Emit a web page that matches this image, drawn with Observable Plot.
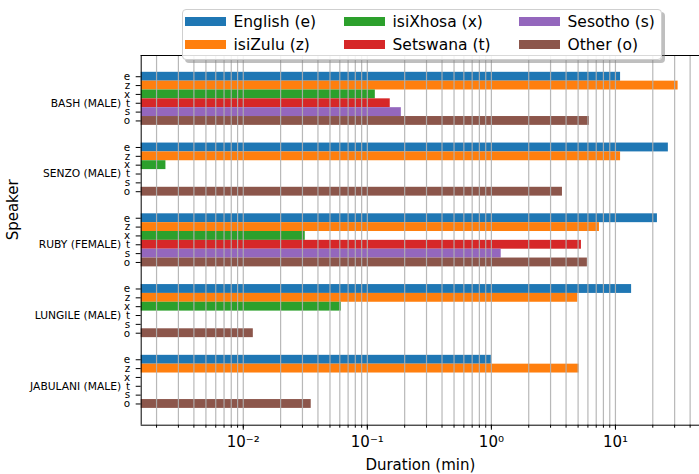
<!DOCTYPE html>
<html><head><meta charset="utf-8">
<script src="https://cdn.jsdelivr.net/npm/d3@7"></script>
<script src="https://cdn.jsdelivr.net/npm/@observablehq/plot@0.6"></script>
<style>
body{margin:0;background:#fff;font-family:"DejaVu Sans",sans-serif;}
#wrap{position:relative;width:699px;height:474px;overflow:hidden;}
#wrap svg{position:absolute;left:0;top:0;}
#legend{position:absolute;left:182px;top:9px;width:480px;height:51px;box-sizing:border-box;border:1px solid #cfcfcf;border-radius:4px;background:rgba(255,255,255,0.85);box-shadow:3px 3px 0 rgba(128,128,128,0.5);z-index:2;}
.item{position:absolute;display:flex;align-items:center;font-size:15.5px;color:#000;height:20px;line-height:20px;white-space:nowrap;}
.sw{width:41px;height:9px;margin-right:8px;flex:none;}
</style></head>
<body>
<div id="wrap"></div>
<script>
const speakers = ["BASH (MALE)", "SENZO (MALE)", "RUBY (FEMALE)", "LUNGILE (MALE)", "JABULANI (MALE)"];
const languages = ["English (e)", "isiZulu (z)", "isiXhosa (x)", "Setswana (t)", "Sesotho (s)", "Other (o)"];
const codes = ["e", "z", "x", "t", "s", "o"];
const colors = ["#1f77b4", "#ff7f0e", "#2ca02c", "#d62728", "#9467bd", "#8c564b"];
// durations in minutes, one value per speaker (0 = none)
const english  = [11.0, 26.7, 21.8, 13.5, 1.0];
const isizulu  = [32.0, 11.0, 7.43, 4.97, 5.09];
const isixhosa = [0.116, 0.00238, 0.0316, 0.0617, 0];
const setswana = [0.153, 0, 5.32, 0, 0];
const sesotho  = [0.188, 0, 1.20, 0, 0];
const other    = [6.17, 3.74, 5.94, 0.01205, 0.0353];
const majorTicks = [0.01, 0.1, 1, 10];

const series = [english, isizulu, isixhosa, setswana, sesotho, other];
const groupSize = 8;
const rows = [];
const rowTicks = [];
speakers.forEach((s, si) => {
  codes.forEach((c, li) => {
    const row = si * groupSize + li;
    rowTicks.push(row);
    rows.push({speaker: s, code: c, row, value: series[li][si]});
  });
});
const bars = rows.filter(d => d.value > 0);

const xDomain = [0.001504, 49.4];
const minorTicks = [];
for (let e = -3; e <= 1; e++) for (let m = 1; m <= 9; m++) {
  const v = m * Math.pow(10, e);
  if (v > xDomain[0] && v < xDomain[1]) minorTicks.push(+v.toPrecision(3));
}
const supMap = {"-": "\u207B", "0": "\u2070", "1": "\u00B9", "2": "\u00B2", "3": "\u00B3", "4": "\u2074", "5": "\u2075", "6": "\u2076", "7": "\u2077", "8": "\u2078", "9": "\u2079"};
const fmt = d => "10" + String(Math.round(Math.log10(d))).split("").map(ch => supMap[ch]).join("");

const yDomain = [-2.4, 39.4];

const plot = Plot.plot({
  width: 699, height: 474,
  marginLeft: 140.7, marginRight: 0, marginTop: 55, marginBottom: 49.3,
  style: {fontFamily: "DejaVu Sans, sans-serif", background: "transparent", color: "#000"},
  x: {type: "log", domain: xDomain, range: [140.7, 701]},
  y: {type: "linear", domain: yDomain, range: [55, 424.7]},
  color: {domain: codes, range: colors},
  marks: [
    Plot.rect(bars, {x1: xDomain[0], x2: "value", y1: d => d.row - 0.5, y2: d => d.row + 0.5, fill: "code"}),
    Plot.ruleX(minorTicks, {stroke: "#b0b0b0", strokeWidth: 1.2, strokeOpacity: 0.9}),
    Plot.axisX({ticks: minorTicks, tickSize: 3, tickFormat: () => "", stroke: "#000", label: null}),
    Plot.axisX({ticks: majorTicks, tickSize: 5, tickPadding: 6, tickFormat: fmt, fontSize: 15, stroke: "#000", label: null}),
    Plot.axisY({ticks: rowTicks, tickSize: 5, tickPadding: 6, tickFormat: i => codes[i % groupSize], fontSize: 10.4, label: null}),
    Plot.text(speakers, {y: (d, i) => i * groupSize + 3, frameAnchor: "left", dx: -20, textAnchor: "end", fontSize: 10.7, text: d => d}),
    Plot.ruleX([xDomain[0]], {stroke: "#000"}),
    Plot.ruleY(yDomain, {stroke: "#000"}),
    Plot.text(["Duration (min)"], {frameAnchor: "bottom", dy: 45, fontSize: 15, text: d => d}),
    Plot.text(["Speaker"], {frameAnchor: "left", dx: -128, rotate: -90, fontSize: 15, text: d => d})
  ]
});
const wrap = document.getElementById("wrap");
wrap.appendChild(plot);

const legend = document.createElement("div");
legend.id = "legend";
const colLeft = [1.5, 160.5, 335.5];
const rowTop = [1.5, 24.5];
languages.forEach((lang, i) => {
  const col = Math.floor(i / 2), r = i % 2;
  const it = document.createElement("div");
  it.className = "item";
  it.style.left = colLeft[col] + "px";
  it.style.top = rowTop[r] + "px";
  const sw = document.createElement("span");
  sw.className = "sw";
  sw.style.background = colors[i];
  const tx = document.createElement("span");
  tx.textContent = lang;
  it.appendChild(sw); it.appendChild(tx);
  legend.appendChild(it);
});
wrap.appendChild(legend);
</script>
</body></html>
